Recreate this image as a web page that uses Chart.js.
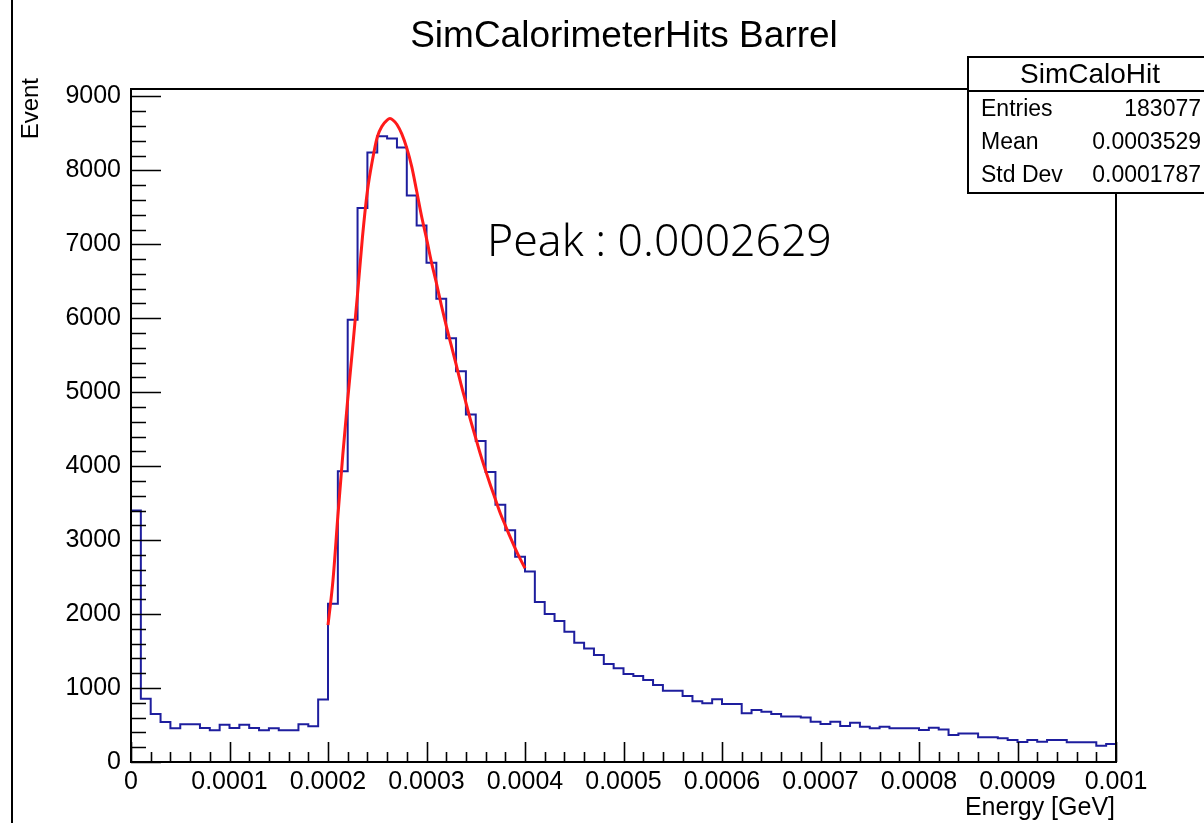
<!DOCTYPE html>
<html>
<head>
<meta charset="utf-8">
<script src="https://cdn.jsdelivr.net/npm/chart.js@4.4.1/dist/chart.umd.min.js"></script>
<style>
  html, body { margin: 0; padding: 0; background: #fff; }
  #grafico { display: block; }
</style>
</head>
<body>
<canvas id="grafico" width="1204" height="823"></canvas>
<script>
// histogram: 100 bins between 0 and 0.001 GeV
const xMin = 0;
const xMax = 0.001;
const yMax = 9100;

const binCounts = [
  3400, 855, 650, 540, 455, 510, 510, 460, 430, 505,
  460, 505, 460, 430, 455, 430, 430, 510, 485, 845,
  2140, 3930, 5980, 7490, 8240, 8460, 8430, 8310, 7660, 7255,
  6750, 6265, 5730, 5285, 4700, 4340, 3920, 3480, 3135, 2775,
  2575, 2165, 2000, 1905, 1760, 1612, 1536, 1446, 1324, 1266,
  1189, 1162, 1108, 1040, 963, 963, 892, 820, 793, 847,
  784, 784, 658, 703, 680, 649, 615, 615, 603, 545,
  513, 545, 486, 531, 477, 455, 477, 455, 455, 455,
  432, 464, 441, 365, 387, 387, 333, 333, 320, 297,
  270, 297, 275, 297, 297, 266, 266, 266, 221, 243
];

// fitted curve (red)
const fitX = [
  0.0002, 0.000205, 0.00021, 0.000215, 0.00022, 0.000225, 0.00023, 0.000235,
  0.00024, 0.000245, 0.00025, 0.000255, 0.00026, 0.0002629, 0.000266, 0.00027,
  0.000275, 0.00028, 0.000285, 0.00029, 0.000295, 0.0003, 0.000305, 0.00031,
  0.000315, 0.00032, 0.000325, 0.00033, 0.000335, 0.00034, 0.000345, 0.00035,
  0.000355, 0.00036, 0.000365, 0.00037, 0.000375, 0.00038, 0.000385, 0.00039,
  0.000395, 0.0004
];
const fitY = [
  1850, 2450, 3320, 4150, 4900, 5600, 6330, 7100,
  7720, 8130, 8450, 8600, 8680, 8700, 8680, 8620,
  8490, 8300, 8050, 7720, 7380, 7080, 6760, 6480,
  6180, 5900, 5640, 5380, 5110, 4860, 4610, 4380,
  4150, 3940, 3740, 3550, 3360, 3200, 3040, 2890,
  2750, 2620
];

const xTickValues = [0, 0.0001, 0.0002, 0.0003, 0.0004, 0.0005, 0.0006, 0.0007, 0.0008, 0.0009, 0.001];
const xTickLabels = ["0", "0.0001", "0.0002", "0.0003", "0.0004", "0.0005", "0.0006", "0.0007", "0.0008", "0.0009", "0.001"];
const yTickValues = [0, 1000, 2000, 3000, 4000, 5000, 6000, 7000, 8000, 9000];
const yTickLabels = ["0", "1000", "2000", "3000", "4000", "5000", "6000", "7000", "8000", "9000"];

const titulo = "SimCalorimeterHits Barrel";
const statsName = "SimCaloHit";
const statsLabels = ["Entries", "Mean", "Std Dev"];
const statsValues = ["183077", "0.0003529", "0.0001787"];
const peakText = "Peak : 0.0002629";

const FONT = '"Liberation Sans", Arial, Helvetica, sans-serif';

// step points for the histogram
const binWidth = (xMax - xMin) / binCounts.length;
const histPoints = [{ x: xMin, y: 0 }];
binCounts.forEach((c, i) => histPoints.push({ x: xMin + i * binWidth, y: c }));
histPoints.push({ x: xMax, y: binCounts[binCounts.length - 1] });

const fitPoints = fitX.map((x, i) => ({ x: x, y: fitY[i] }));

// ROOT style frame, inner ticks and texts
const rootFrame = {
  id: "rootFrame",
  afterDatasetsDraw(chart) {
    const ctx = chart.ctx;
    const area = chart.chartArea;
    const xs = chart.scales.x;
    const ys = chart.scales.y;
    ctx.save();
    ctx.strokeStyle = "#000";
    ctx.lineWidth = 1.6;
    ctx.beginPath();
    // x ticks (5 per major)
    for (let i = 0; i <= 50; i++) {
      const px = Math.round(xs.getPixelForValue(i * 0.00002)) + 0.5;
      const len = i % 5 === 0 ? 20 : 10;
      ctx.moveTo(px, area.bottom);
      ctx.lineTo(px, area.bottom - len);
    }
    // y ticks (5 per major)
    for (let i = 0; i * 200 <= yMax; i++) {
      const py = Math.round(ys.getPixelForValue(i * 200)) + 0.5;
      const len = i % 5 === 0 ? 30 : 15;
      ctx.moveTo(area.left, py);
      ctx.lineTo(area.left + len, py);
    }
    ctx.stroke();
    ctx.lineWidth = 2;
    ctx.strokeRect(area.left, area.top, area.right - area.left, area.bottom - area.top);
    ctx.restore();
  },
  afterDraw(chart) {
    const ctx = chart.ctx;
    ctx.save();
    ctx.fillStyle = "#000";

    // left border of the canvas
    ctx.fillRect(11, 0, 2, 823);

    // title
    ctx.font = "37px " + FONT;
    ctx.textAlign = "center";
    ctx.textBaseline = "alphabetic";
    ctx.fillText(titulo, 624, 47);

    // axis titles
    ctx.font = "25px " + FONT;
    ctx.textAlign = "right";
    ctx.fillText("Energy [GeV]", 1115, 815);
    ctx.save();
    ctx.translate(38, 78);
    ctx.rotate(-Math.PI / 2);
    ctx.font = "24px " + FONT;
    ctx.textAlign = "right";
    ctx.fillText("Event", 0, 0);
    ctx.restore();

    // stats box
    ctx.fillStyle = "#fff";
    ctx.fillRect(968, 57, 260, 136);
    ctx.strokeStyle = "#000";
    ctx.lineWidth = 2;
    ctx.strokeRect(968, 57, 260, 136);
    ctx.beginPath();
    ctx.moveTo(968, 91);
    ctx.lineTo(1204, 91);
    ctx.stroke();
    ctx.fillStyle = "#000";
    ctx.textBaseline = "middle";
    ctx.font = "28px " + FONT;
    ctx.textAlign = "center";
    ctx.fillText(statsName, 1090, 75);
    ctx.font = "23px " + FONT;
    statsLabels.forEach((lab, i) => {
      const y = 110 + i * 33;
      ctx.textAlign = "left";
      ctx.fillText(lab, 981, y);
      ctx.textAlign = "right";
      ctx.fillText(statsValues[i], 1201, y);
    });

    // peak annotation
    ctx.font = '300 40px "Noto Sans", ' + FONT;
    const w = ctx.measureText(peakText).width;
    const size = 40 * 345 / w;
    ctx.font = '300 ' + size.toFixed(1) + 'px "Noto Sans", ' + FONT;
    ctx.textAlign = "left";
    ctx.textBaseline = "middle";
    ctx.fillText(peakText, 487, 243);
    ctx.restore();
  }
};

const ctx = document.getElementById("grafico");

const chart = new Chart(ctx, {
  type: "line",
  data: {
    datasets: [
      {
        label: "fit",
        data: fitPoints,
        borderColor: "#ff1a1a",
        borderWidth: 3,
        pointRadius: 0,
        fill: false,
        cubicInterpolationMode: "monotone",
        order: 0
      },
      {
        label: statsName,
        data: histPoints,
        borderColor: "#1e1e9e",
        borderWidth: 2,
        pointRadius: 0,
        fill: false,
        stepped: "before",
        order: 1
      }
    ]
  },
  options: {
    responsive: false,
    animation: false,
    devicePixelRatio: 1,
    layout: { padding: { left: 0, right: 88, top: 89, bottom: 0 } },
    plugins: {
      legend: { display: false },
      tooltip: { enabled: false },
      title: { display: false }
    },
    scales: {
      x: {
        type: "linear",
        min: xMin,
        max: xMax,
        afterBuildTicks: (scale) => { scale.ticks = xTickValues.map((v) => ({ value: v })); },
        afterFit: (scale) => { scale.height = 61; },
        grid: { display: false, drawTicks: false, tickLength: 0 },
        border: { display: false },
        ticks: {
          autoSkip: false,
          maxRotation: 0,
          padding: 5,
          color: "#000",
          font: { family: FONT, size: 25 },
          callback: (v, i) => xTickLabels[i]
        }
      },
      y: {
        type: "linear",
        min: 0,
        max: yMax,
        afterBuildTicks: (scale) => { scale.ticks = yTickValues.map((v) => ({ value: v })); },
        afterFit: (scale) => { scale.width = 131; },
        grid: { display: false, drawTicks: false, tickLength: 0 },
        border: { display: false },
        ticks: {
          autoSkip: false,
          padding: 10,
          color: "#000",
          font: { family: FONT, size: 25 },
          callback: (v, i) => yTickLabels[i]
        }
      }
    }
  },
  plugins: [rootFrame]
});
</script>
</body>
</html>
